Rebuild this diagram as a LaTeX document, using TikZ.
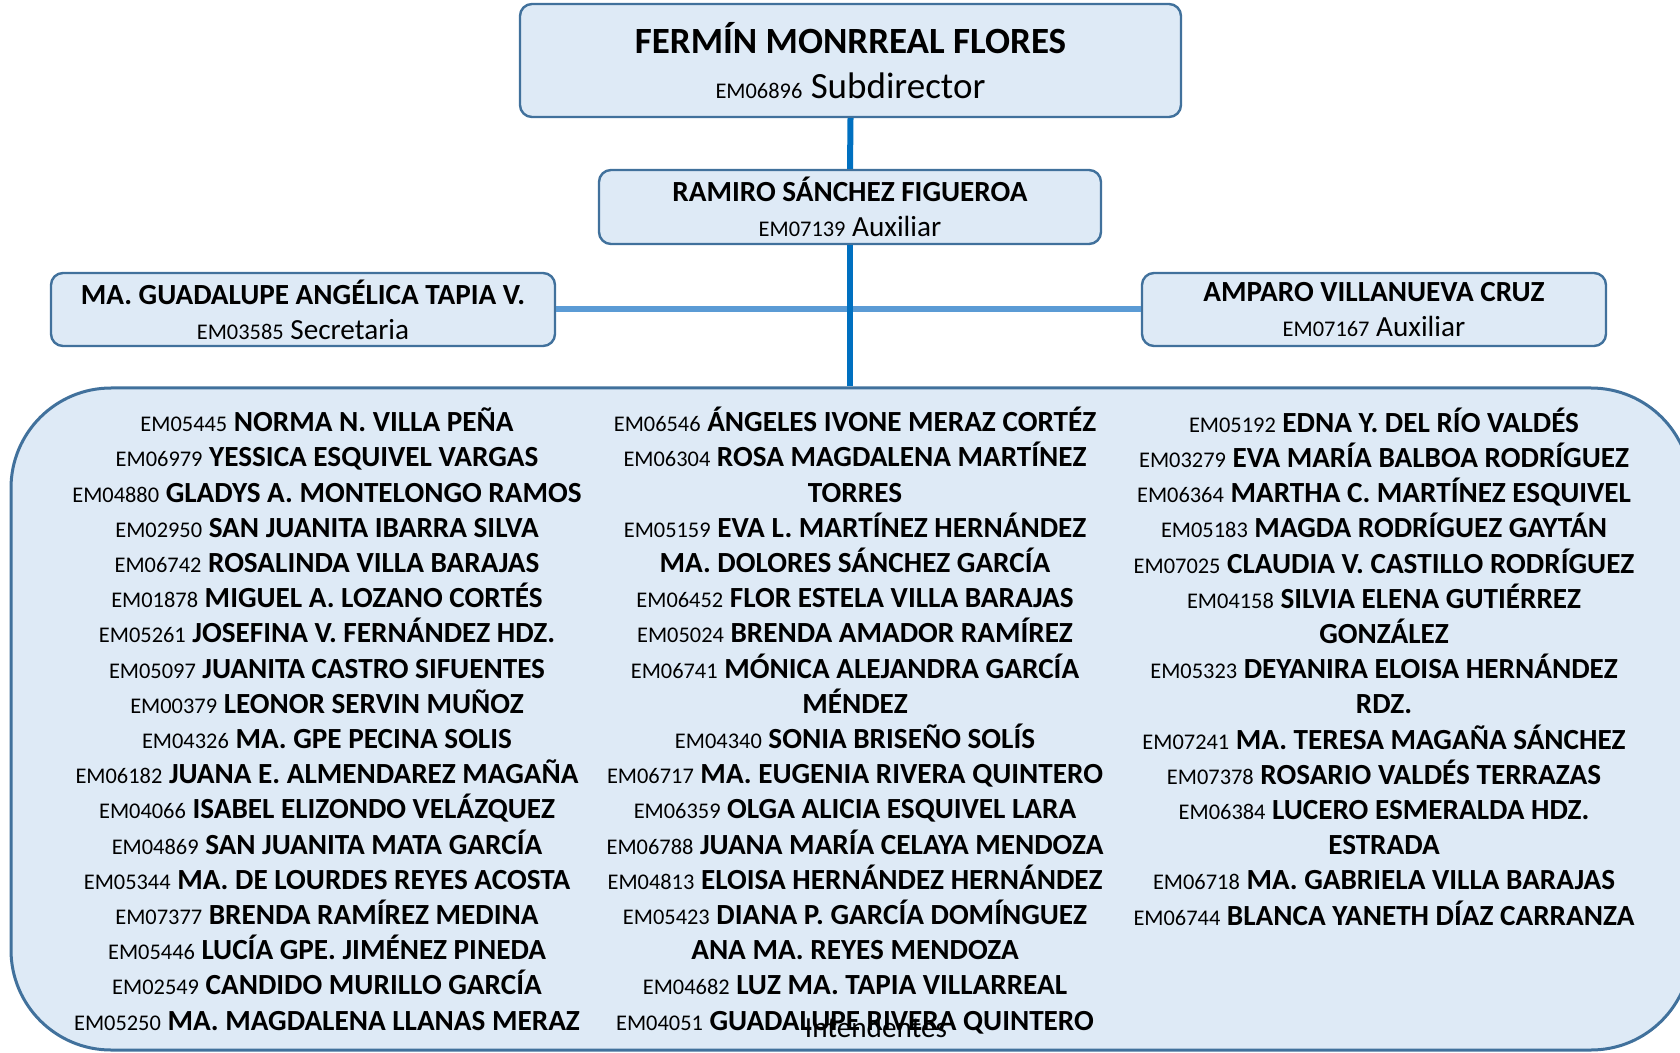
\documentclass[tikz,border=0pt]{standalone}
\usepackage{fontspec}
\setmainfont{Carlito}
\definecolor{cajafondo}{RGB}{222,234,246}
\definecolor{cajaborde}{RGB}{65,113,156}
\definecolor{lineaoscura}{RGB}{0,112,192}
\definecolor{lineaclara}{RGB}{91,155,213}
\newcommand{\clave}[1]{{\mdseries\fontsize{11.2}{13}\selectfont #1}}
\tikzset{
    puesto/.style={draw=cajaborde, fill=cajafondo, line width=1.2pt, rounded corners=6pt,
        align=center, inner sep=0pt, font=\fontsize{14.6}{17.5}\selectfont},
    grupo/.style={draw=cajaborde, fill=cajafondo, line width=1.5pt, rounded corners=50pt,
        inner sep=0pt, minimum width=840pt, minimum height=331pt},
    lista/.style={align=center, inner sep=0pt, anchor=base, font=\fontsize{14.6}{17.6}\selectfont\bfseries},
    ramal/.style={draw=lineaoscura, line width=3pt},
    enlace/.style={draw=lineaclara, line width=3pt},
    organigrama/.style={x=0.5pt, y=-0.5pt}
}
\begin{document}
\begin{tikzpicture}[organigrama]
    \useasboundingbox (0,0) rectangle (1680,1053);

    % Intendentes group (lists anchored at their last baseline)
    \node[grupo] (grupo) at (851,719) {};
    \node[lista] (colA) at (327,1030) {\clave{EM05445} NORMA N. VILLA PEÑA\\
        \clave{EM06979} YESSICA ESQUIVEL VARGAS\\
        \clave{EM04880} GLADYS A. MONTELONGO RAMOS\\
        \clave{EM02950} SAN JUANITA IBARRA SILVA\\
        \clave{EM06742} ROSALINDA VILLA BARAJAS\\
        \clave{EM01878} MIGUEL A. LOZANO CORTÉS\\
        \clave{EM05261} JOSEFINA V. FERNÁNDEZ HDZ.\\
        \clave{EM05097} JUANITA CASTRO SIFUENTES\\
        \clave{EM00379} LEONOR SERVIN MUÑOZ\\
        \clave{EM04326} MA. GPE PECINA SOLIS\\
        \clave{EM06182} JUANA E. ALMENDAREZ MAGAÑA\\
        \clave{EM04066} ISABEL ELIZONDO VELÁZQUEZ\\
        \clave{EM04869} SAN JUANITA MATA GARCÍA\\
        \clave{EM05344} MA. DE LOURDES REYES ACOSTA\\
        \clave{EM07377} BRENDA RAMÍREZ MEDINA\\
        \clave{EM05446} LUCÍA GPE. JIMÉNEZ PINEDA\\
        \clave{EM02549} CANDIDO MURILLO GARCÍA\\
        \clave{EM05250} MA. MAGDALENA LLANAS MERAZ};
    \node[lista] (colB) at (855,1030) {\clave{EM06546} ÁNGELES IVONE MERAZ CORTÉZ\\
        \clave{EM06304} ROSA MAGDALENA MARTÍNEZ\\
        TORRES\\
        \clave{EM05159} EVA L. MARTÍNEZ HERNÁNDEZ\\
        MA. DOLORES SÁNCHEZ GARCÍA\\
        \clave{EM06452} FLOR ESTELA VILLA BARAJAS\\
        \clave{EM05024} BRENDA AMADOR RAMÍREZ\\
        \clave{EM06741} MÓNICA ALEJANDRA GARCÍA\\
        MÉNDEZ\\
        \clave{EM04340} SONIA BRISEÑO SOLÍS\\
        \clave{EM06717} MA. EUGENIA RIVERA QUINTERO\\
        \clave{EM06359} OLGA ALICIA ESQUIVEL LARA\\
        \clave{EM06788} JUANA MARÍA CELAYA MENDOZA\\
        \clave{EM04813} ELOISA HERNÁNDEZ HERNÁNDEZ\\
        \clave{EM05423} DIANA P. GARCÍA DOMÍNGUEZ\\
        ANA MA. REYES MENDOZA\\
        \clave{EM04682} LUZ MA. TAPIA VILLARREAL\\
        \clave{EM04051} GUADALUPE RIVERA QUINTERO};
    \node[lista] (colC) at (1384,925) {\clave{EM05192} EDNA Y. DEL RÍO VALDÉS\\
        \clave{EM03279} EVA MARÍA BALBOA RODRÍGUEZ\\
        \clave{EM06364} MARTHA C. MARTÍNEZ ESQUIVEL\\
        \clave{EM05183} MAGDA RODRÍGUEZ GAYTÁN\\
        \clave{EM07025} CLAUDIA V. CASTILLO RODRÍGUEZ\\
        \clave{EM04158} SILVIA ELENA GUTIÉRREZ\\
        GONZÁLEZ\\
        \clave{EM05323} DEYANIRA ELOISA HERNÁNDEZ\\
        RDZ.\\
        \clave{EM07241} MA. TERESA MAGAÑA SÁNCHEZ\\
        \clave{EM07378} ROSARIO VALDÉS TERRAZAS\\
        \clave{EM06384} LUCERO ESMERALDA HDZ.\\
        ESTRADA\\
        \clave{EM06718} MA. GABRIELA VILLA BARAJAS\\
        \clave{EM06744} BLANCA YANETH DÍAZ CARRANZA};
    \node[anchor=base, inner sep=0pt, font=\fontsize{14.6}{17.6}\selectfont] (intend) at (876,1037) {Intendentes};

    % Staff boxes
    \node[puesto, minimum width=330.5pt, minimum height=56.5pt, font=\fontsize{18.5}{22.5}\selectfont] (jefe) at (850.5,60.5)
        {\textbf{FERMÍN MONRREAL FLORES}\\ \clave{EM06896} Subdirector};
    \node[puesto, minimum width=251pt, minimum height=37pt] (aux1) at (850,207)
        {\textbf{RAMIRO SÁNCHEZ FIGUEROA}\\ \clave{EM07139} Auxiliar};
    \node[puesto, minimum width=252pt, minimum height=36.5pt] (secre) at (303,309.5)
        {\textbf{MA. GUADALUPE ANGÉLICA TAPIA V.}\\ \clave{EM03585} Secretaria};
    \node[puesto, minimum width=232pt, minimum height=36.5pt] (aux2) at (1374,309.5)
        {\textbf{AMPARO VILLANUEVA CRUZ}\\ \clave{EM07167} Auxiliar};

    % Connectors
    \path[enlace] (secre.east) -- (aux2.west);
    \path[ramal] (jefe.south) -- (aux1.north);
    \path[ramal] (aux1.south) -- (aux1.south |- grupo.north);

\end{tikzpicture}
\end{document}
